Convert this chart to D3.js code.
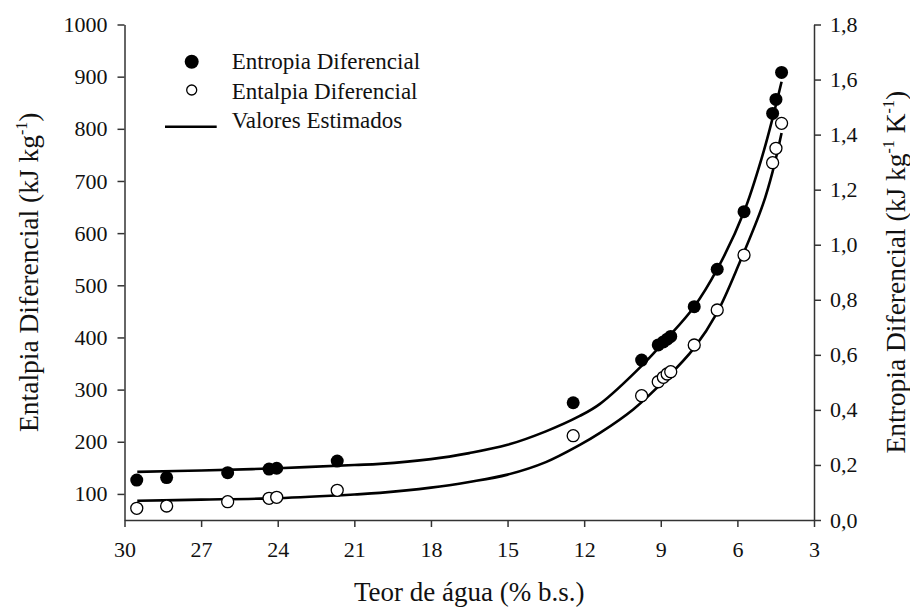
<!DOCTYPE html>
<html>
<head>
<meta charset="utf-8">
<script src="https://cdn.jsdelivr.net/npm/d3@7"></script>
<style>
  body { margin: 0; background: #fff; }
  text { font-family: "Liberation Serif", "Times New Roman", serif; fill: #111; }
  .axis path, .axis line { stroke: #333; stroke-width: 1.5; }
  .axis text { font-size: 22px; font-family: "Liberation Serif", "Times New Roman", serif; fill: #111; }
</style>
</head>
<body>
<svg id="chart" width="910" height="610"></svg>
<script>
// teor de agua (% b.s.) of each measured point
var teorAgua = [29.52, 28.35, 25.96, 24.34, 24.04, 21.67, 12.43, 9.75, 9.10, 8.90, 8.75, 8.61, 7.69, 6.79, 5.74, 4.62, 4.49, 4.27];
// entalpia diferencial (kJ kg-1), open circles, left axis
var entalpia = [72.4, 76.8, 85.1, 91.6, 93.5, 106.9, 211.6, 288.3, 315.1, 323.6, 329.9, 334.3, 385.5, 452.6, 558, 735, 762.6, 810.5];
// entropia diferencial (kJ kg-1 K-1), filled circles, right axis
var entropia = [0.145, 0.154, 0.172, 0.185, 0.188, 0.214, 0.426, 0.581, 0.636, 0.647, 0.657, 0.667, 0.775, 0.911, 1.120, 1.477, 1.528, 1.626];

// valores estimados
var estEntalpiaX = [29.5, 27, 24, 21, 20, 18, 16.5, 15, 13.5, 12.17, 11.38, 10.08, 8.77, 7.69, 6.81, 5.9, 5.0, 4.62, 4.27];
var estEntalpiaY = [87, 89, 92, 99, 102, 112, 123, 137, 161, 194, 217, 262, 322, 380, 446, 545, 655, 718, 792];
var estEntropiaX = [29.5, 27, 24, 21, 20, 18, 16.5, 15, 13.5, 12.17, 11.38, 9.75, 8.77, 7.69, 6.79, 5.74, 5.0, 4.62, 4.27];
var estEntropiaY = [0.175, 0.18, 0.188, 0.2, 0.204, 0.221, 0.243, 0.273, 0.322, 0.378, 0.422, 0.56, 0.658, 0.775, 0.911, 1.12, 1.33, 1.46, 1.592];

var xTicks = [30, 27, 24, 21, 18, 15, 12, 9, 6, 3];
var leftTicks = [100, 200, 300, 400, 500, 600, 700, 800, 900, 1000];
var rightTicks = [0, 0.2, 0.4, 0.6, 0.8, 1.0, 1.2, 1.4, 1.6, 1.8];

var svg = d3.select("#chart");
var mLeft = 124.5, mRight = 814, mTop = 24.5, mBottom = 520;

var x = d3.scaleLinear().domain([30, 3]).range([mLeft, mRight]);
var yL = d3.scaleLinear().domain([50, 1000]).range([mBottom, mTop]);
var yR = d3.scaleLinear().domain([0, 1.8]).range([mBottom, mTop]);

var fmtComma = d => d3.format(".1f")(d).replace(".", ",");

// axes
svg.append("g").attr("class", "axis")
    .attr("transform", "translate(0," + mBottom + ")")
    .call(d3.axisBottom(x).tickValues(xTicks).tickSize(7).tickSizeOuter(0).tickPadding(14).tickFormat(d3.format("d")));

svg.append("g").attr("class", "axis")
    .attr("transform", "translate(" + mLeft + ",0)")
    .call(d3.axisLeft(yL).tickValues(leftTicks).tickSize(7).tickSizeOuter(0).tickPadding(10).tickFormat(d3.format("d")));

svg.append("g").attr("class", "axis")
    .attr("transform", "translate(" + mRight + ",0)")
    .call(d3.axisRight(yR).tickValues(rightTicks).tickSize(7).tickSizeOuter(0).tickPadding(9).tickFormat(fmtComma));

// fitted curves
var lineH = d3.line().x((d, i) => x(estEntalpiaX[i])).y(d => yL(d)).curve(d3.curveCatmullRom.alpha(0.5));
var lineS = d3.line().x((d, i) => x(estEntropiaX[i])).y(d => yR(d)).curve(d3.curveCatmullRom.alpha(0.5));

svg.append("path").attr("d", lineS(estEntropiaY))
    .attr("fill", "none").attr("stroke", "#000").attr("stroke-width", 2.6);
svg.append("path").attr("d", lineH(estEntalpiaY))
    .attr("fill", "none").attr("stroke", "#000").attr("stroke-width", 2.6);

// points
svg.append("g").selectAll("circle")
    .data(entropia)
    .enter().append("circle")
    .attr("cx", (d, i) => x(teorAgua[i]))
    .attr("cy", d => yR(d))
    .attr("r", 6.5)
    .attr("fill", "#000");

svg.append("g").selectAll("circle")
    .data(entalpia)
    .enter().append("circle")
    .attr("cx", (d, i) => x(teorAgua[i]))
    .attr("cy", d => yL(d))
    .attr("r", 6)
    .attr("fill", "#fff")
    .attr("stroke", "#000")
    .attr("stroke-width", 1.3);

// legend
var lg = svg.append("g");
lg.append("circle").attr("cx", 191.7).attr("cy", 61.7).attr("r", 7).attr("fill", "#000");
lg.append("text").attr("x", 231.7).attr("y", 69.3).attr("font-size", 23).text("Entropia Diferencial");
lg.append("circle").attr("cx", 191.7).attr("cy", 90).attr("r", 5).attr("fill", "#fff").attr("stroke", "#000").attr("stroke-width", 1.3);
lg.append("text").attr("x", 231.7).attr("y", 99.3).attr("font-size", 23).text("Entalpia Diferencial");
lg.append("line").attr("x1", 165).attr("x2", 216.7).attr("y1", 126.7).attr("y2", 126.7)
    .attr("stroke", "#000").attr("stroke-width", 2.6);
lg.append("text").attr("x", 231.7).attr("y", 128.3).attr("font-size", 23).text("Valores Estimados");

// titles
svg.append("text").attr("x", (mLeft + mRight) / 2).attr("y", 601)
    .attr("text-anchor", "middle").attr("font-size", 27).text("Teor de água (% b.s.)");

function supTitle(g, parts) {
    var t = g.append("text").attr("text-anchor", "middle").attr("font-size", 27.5);
    var shift = 0;
    parts.forEach(p => {
        var s = t.append("tspan").text(p.t);
        if (p.sup) {
            s.attr("font-size", 16).attr("dy", -11);
            shift = 11;
        } else if (shift) {
            s.attr("dy", shift);
            shift = 0;
        }
    });
}

var lt = svg.append("g").attr("transform", "translate(38," + (mTop + mBottom) / 2 + ") rotate(-90)");
supTitle(lt, [{t: "Entalpia Diferencial (kJ kg"}, {t: "-1", sup: true}, {t: ")"}]);

var rt = svg.append("g").attr("transform", "translate(905," + (mTop + mBottom) / 2 + ") rotate(-90)");
supTitle(rt, [{t: "Entropia Diferencial (kJ kg"}, {t: "-1", sup: true}, {t: " K"}, {t: "-1", sup: true}, {t: ")"}]);
</script>
</body>
</html>
